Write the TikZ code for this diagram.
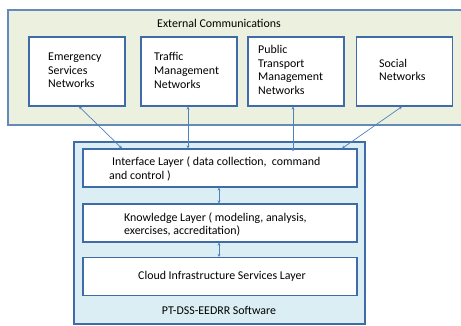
\documentclass[tikz,border=0pt]{standalone}
\usepackage{fontspec}
\setmainfont{Carlito}
\usetikzlibrary{positioning}
\usetikzlibrary{arrows.meta}
\usetikzlibrary{calc}

\definecolor{boxblue}{HTML}{3F6BA8}
\definecolor{linkblue}{HTML}{4F81BD}
\definecolor{extgreen}{HTML}{EBF1DE}
\definecolor{swblue}{HTML}{DAEEF3}

\tikzset{
  netbox/.style={draw=boxblue, line width=1.1pt, fill=white, minimum width=96pt,
    minimum height=69pt, inner sep=0pt},
  layerbox/.style={draw=boxblue, line width=1.1pt, fill=white, minimum width=274pt,
    minimum height=38pt, inner sep=0pt},
  link/.style={draw=linkblue, line width=0.7pt, {Stealth[length=3pt,width=3pt]}-{Stealth[length=3pt,width=3pt]}},
  lbl/.style={font=\fontsize{11.9}{13.6}\selectfont, align=left, inner sep=0pt}
}

\begin{document}
\begin{tikzpicture}[x=1pt,y=-1pt]
			\useasboundingbox (0,0) rectangle (461,325);
			% Define the outer frames
			\draw[draw=boxblue!80, line width=1.1pt, fill=extgreen] (8,10) rectangle (470,125);
			\draw[draw=boxblue, line width=1.1pt, fill=swblue] (74,142) rectangle (365,324);
			\node[lbl] (ext) at (219,23) {External Communications};
			\node[lbl] (sw) at (219,310) {PT-DSS-EEDRR Software};

			% Define the network boxes
			\node[netbox] (esn) at (77,71.5) {};
			\node[netbox] (tmn) at (189,71.5) {};
			\node[netbox] (ptn) at (296,71.5) {};
			\node[netbox] (soc) at (404.5,71.5) {};
			\node[lbl, anchor=west] at (48,70.5) {Emergency\\Services\\Networks};
			\node[lbl, anchor=west] at (154,70.5) {Traffic\\Management\\Networks};
			\node[lbl, anchor=west] at (258,70) {Public\\Transport\\Management\\Networks};
			\node[lbl, anchor=west] at (379,70) {Social\\Networks};

			% Define the layers
			\node[layerbox] (ifl) at (220,168) {};
			\node[layerbox] (knl) at (220,223) {};
			\node[layerbox] (cis) at (220,276.5) {};
			\node[lbl, anchor=west] at (109,169) {\hspace*{3pt}Interface Layer ( data collection,\ \ command\\and control )};
			\node[lbl, anchor=west] at (124,224.5) {Knowledge Layer ( modeling, analysis,\\exercises, accreditation)};
			\node[lbl] at (222,276.5) {Cloud Infrastructure Services Layer};

			% Draw the links
			\draw[link] (esn.south -| 79,0) -- (ifl.north -| 122,0);
			\draw[link] (tmn.south -| 188,0) -- (ifl.north -| 188,0);
			\draw[link] (ptn.south -| 293,0) -- ($(ifl.north -| 293,0)+(0,3)$);
			\draw[link] (soc.south -| 402,0) -- (ifl.north -| 342,0);
			\draw[link] (ifl.south -| 219,0) -- (knl.north -| 219,0);
			\draw[link] (knl.south -| 219,0) -- (cis.north -| 219,0);
\end{tikzpicture}
\end{document}
